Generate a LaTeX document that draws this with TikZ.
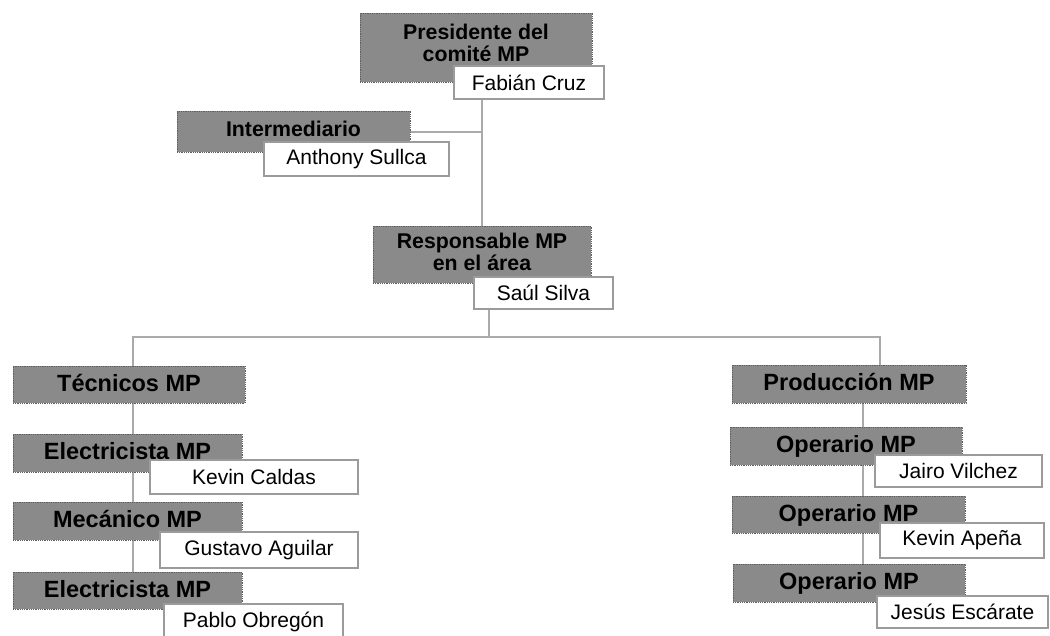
\documentclass[tikz,border=0pt]{standalone}
\usepackage{fontspec}
\setmainfont{Liberation Sans}
\usetikzlibrary{backgrounds}
\definecolor{boxgray}{RGB}{138,138,138}
\definecolor{boxedge}{RGB}{95,95,95}
\definecolor{wedge}{RGB}{155,155,155}
\definecolor{linegray}{RGB}{170,170,170}
\begin{document}
\begin{tikzpicture}[x=1pt,y=-1pt,
  gbox/.style={draw=boxedge,densely dotted,line width=0.8pt,fill=boxgray,inner sep=0pt,align=center,
    font=\fontsize{21.3}{22}\selectfont\bfseries},
  gboxl/.style={gbox,font=\fontsize{23.5}{25}\selectfont\bfseries,text height=17pt,text depth=4pt},
  wbox/.style={draw=wedge,line width=1.4pt,fill=white,inner sep=0pt,
    font=\fontsize{21}{22}\selectfont},
  conn/.style={draw=linegray,line width=2pt}]
\useasboundingbox (0,0) rectangle (1050,635);
\clip (0,0) rectangle (1050,635);
% gray boxes
\node[gbox,minimum width=232,minimum height=69,text depth=9pt] (pres) at (476,47.5) {Presidente del\\comité MP};
\node[gbox,minimum width=233,minimum height=41,text depth=6pt] (inter) at (293.5,131.5) {Intermediario};
\node[gbox,minimum width=218,minimum height=57,text depth=6pt] (resp) at (482,254.5) {Responsable MP\\en el área};
\node[gboxl,minimum width=232,minimum height=37] (tec) at (129,384.5) {Técnicos MP};
\node[gboxl,minimum width=229,minimum height=38] (elec1) at (127.5,453) {Electricista MP};
\node[gboxl,minimum width=229,minimum height=38] (mec) at (127.5,521) {Mecánico MP};
\node[gboxl,minimum width=229,minimum height=37] (elec2) at (127.5,590.5) {Electricista MP};
\node[gboxl,minimum width=234,minimum height=38] (prod) at (849,384) {Producción MP};
\node[gboxl,minimum width=232,minimum height=38] (op1) at (846,446) {Operario MP};
\node[gboxl,minimum width=233,minimum height=37] (op2) at (848.5,514.5) {Operario MP};
\node[gboxl,minimum width=232,minimum height=38] (op3) at (849,583) {Operario MP};
% white boxes
\node[wbox,minimum width=150,minimum height=33] (fab) at (529,82.5) {Fabián Cruz};
\node[wbox,minimum width=185,minimum height=34] (anth) at (356.5,159) {Anthony Sullca};
\node[wbox,minimum width=139,minimum height=32] (saul) at (543.5,293) {Saúl Silva};
\node[wbox,minimum width=208,minimum height=34] (kevc) at (254,477) {Kevin Caldas};
\node[wbox,minimum width=198,minimum height=36] (gus) at (259,550) {Gustavo Aguilar};
\node[wbox,minimum width=179,minimum height=36] (pablo) at (253.5,622) {Pablo Obregón};
\node[wbox,minimum width=167,minimum height=32] (jairo) at (958.5,471) {Jairo Vilchez};
\node[wbox,minimum width=164,minimum height=35] (kape) at (962,540.5) {Kevin Apeña};
\node[wbox,minimum width=171,minimum height=32] (jesus) at (962.5,612) {Jesús Escárate};
% connectors (behind)
\coordinate (c1) at (482,131.5);
\coordinate (hb) at (489,337);
\coordinate (hl) at (133,337);
\coordinate (hr) at (880,337);
\coordinate (vr) at (863,337);
\begin{scope}[on background layer]
\draw[conn] (fab.south -| c1) -- (resp.north -| c1);
\draw[conn] (inter.east) -- (c1);
\draw[conn] (saul.south -| hb) -- (hb);
\draw[conn] (tec.north -| hl) -- (hl) -- (hr) -- (prod.north -| hr);
\draw[conn] (tec.south -| hl) -- (elec1.north -| hl);
\draw[conn] (elec1.south -| hl) -- (mec.north -| hl);
\draw[conn] (mec.south -| hl) -- (elec2.north -| hl);
\draw[conn] (prod.south -| vr) -- (op1.north -| vr);
\draw[conn] (op1.south -| vr) -- (op2.north -| vr);
\draw[conn] (op2.south -| vr) -- (op3.north -| vr);
\end{scope}
\end{tikzpicture}
\end{document}
